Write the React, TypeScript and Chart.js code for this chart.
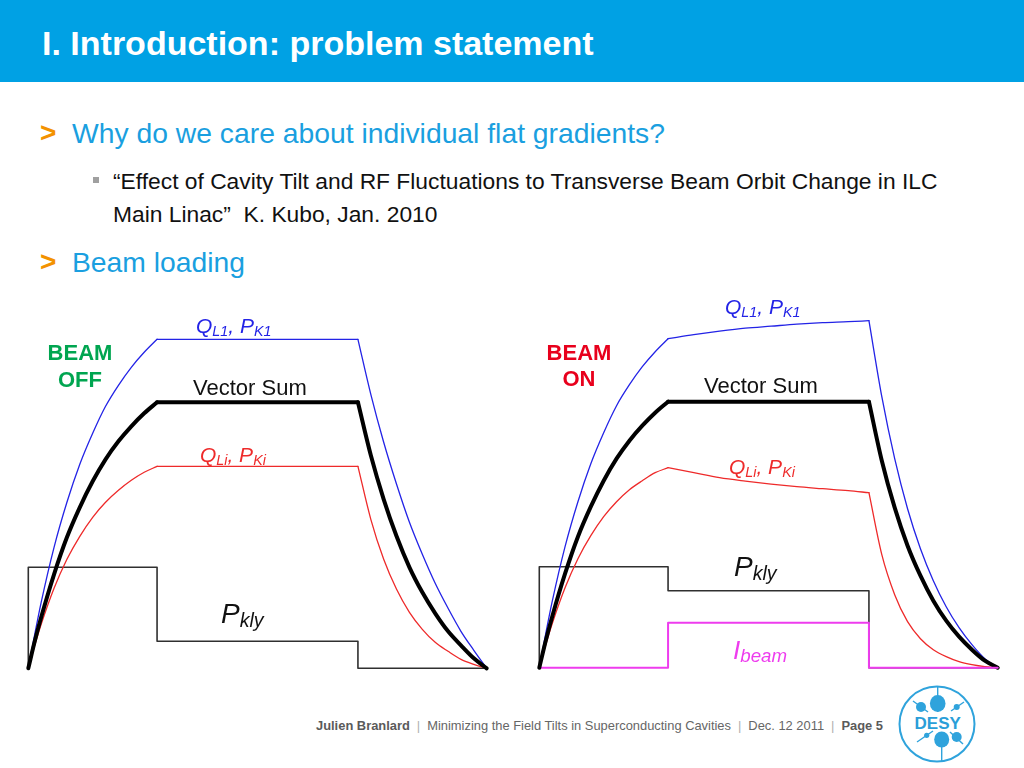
import React, { useEffect, useRef } from "react";
import { Chart, registerables } from "chart.js";

Chart.register(...registerables);

// ---- time axis (µs) ----
const timeFill = [0, 25, 50, 100, 150, 200, 250, 300, 350, 400, 450, 500];
const timeFlatOff = [500, 1280];
const timeFlatOn = [500, 600, 700, 800, 900, 1000, 1100, 1200, 1280];
const timeDecay = [1280, 1330, 1380, 1430, 1480, 1530, 1580, 1630, 1680, 1730, 1780];
const timeKly = [0, 0, 500, 500, 1280, 1280, 1780];
const timeBeam = [0, 500, 500, 1280, 1280, 1780];

// ---- BEAM OFF ----
const offCav1Fill = [0, 3.4, 6.6, 12.1, 16.6, 20.4, 23.5, 26.2, 28.3, 30.1, 31.6, 32.9];
const offCav1Flat = [32.9, 32.9];
const offCav1Decay = [32.9, 27.4, 22.6, 18.4, 14.6, 11.4, 8.5, 6.0, 3.7, 1.8, 0];
const offVsFill = [0, 2.7, 5.1, 9.4, 13.1, 16.1, 18.7, 20.9, 22.7, 24.2, 25.5, 26.6];
const offVsFlat = [26.6, 26.6];
const offVsDecay = [26.6, 21.3, 16.9, 13.2, 10.1, 7.6, 5.5, 3.7, 2.3, 1.0, 0];
const offCaviFill = [0, 2.3, 4.4, 8.0, 10.9, 13.2, 15.1, 16.6, 17.8, 18.8, 19.6, 20.2];
const offCaviFlat = [20.2, 20.2];
const offCaviDecay = [20.2, 14.9, 10.9, 7.9, 5.6, 3.9, 2.6, 1.7, 0.9, 0.4, 0];
const offKly = [0, 10.1, 10.1, 2.7, 2.7, 0, 0];

// ---- BEAM ON ----
const onCav1Fill = [0, 3.4, 6.6, 12.1, 16.6, 20.4, 23.5, 26.2, 28.3, 30.1, 31.6, 32.9];
const onCav1Flat = [32.9, 33.3, 33.65, 33.95, 34.15, 34.35, 34.5, 34.6, 34.7];
const onCav1Decay = [34.7, 27.1, 20.9, 15.9, 11.9, 8.7, 6.1, 4.0, 2.3, 0.9, 0];
const onVsFill = [0, 2.7, 5.1, 9.4, 13.1, 16.1, 18.7, 20.9, 22.7, 24.2, 25.5, 26.6];
const onVsFlat = [26.6, 26.6];
const onVsDecay = [26.6, 20.7, 16.0, 12.2, 9.2, 6.7, 4.7, 3.1, 1.8, 0.7, 0];
const onCaviFill = [0, 2.3, 4.4, 8.0, 10.9, 13.2, 15.1, 16.6, 17.8, 18.7, 19.5, 20.0];
const onCaviFlat = [20.0, 19.5, 19.0, 18.65, 18.35, 18.1, 17.9, 17.7, 17.5];
const onCaviDecay = [17.5, 11.3, 7.3, 4.6, 2.9, 1.8, 1.1, 0.6, 0.3, 0.1, 0];
const onKly = [0, 10.1, 10.1, 7.7, 7.7, 0, 0];
const onBeam = [0, 0, 4.5, 4.5, 0, 0];

const BLUE = "#2323e6";
const RED = "#ee2a2a";
const BLACK = "#000000";
const KLY = "#303030";
const MAGENTA = "#ee3cee";
const LOGO = "#2fa3dc";
const FONT = "'Liberation Sans', Arial, Helvetica, sans-serif";

const pts = (xs: number[], ys: number[]) => xs.map((x, i) => ({ x, y: ys[i] }));

const curve = (xs: number[], ys: number[], color: string, width: number, smooth = true) => ({
  data: pts(xs, ys),
  borderColor: color,
  backgroundColor: color,
  borderWidth: width,
  pointRadius: 0,
  fill: false,
  clip: false as any,
  tension: 0,
  cubicInterpolationMode: smooth ? ("monotone" as const) : ("default" as const),
  borderCapStyle: "round" as const,
  borderJoinStyle: "round" as const,
});

type Pad = { left: number; right: number; top: number; bottom: number };

function LineChart(props: { left: number; top: number; width: number; height: number; padding: Pad; datasets: any[] }) {
  const ref = useRef<HTMLCanvasElement>(null);
  useEffect(() => {
    const chart = new Chart(ref.current as HTMLCanvasElement, {
      type: "line",
      data: { datasets: props.datasets },
      options: {
        animation: false,
        responsive: false,
        maintainAspectRatio: false,
        devicePixelRatio: 1,
        layout: { padding: props.padding },
        plugins: { legend: { display: false }, tooltip: { enabled: false } },
        events: [],
        scales: {
          x: { type: "linear", min: 0, max: 1780, display: false },
          y: { type: "linear", min: 0, max: 36, display: false },
        },
      },
    });
    return () => chart.destroy();
  }, []);
  return (
    <canvas
      ref={ref}
      width={props.width}
      height={props.height}
      style={{ position: "absolute", left: props.left, top: props.top, width: props.width, height: props.height }}
    />
  );
}

const Sub = ({ children, size = 0.68 }: { children: any; size?: number }) => (
  <span style={{ fontSize: `${size}em`, position: "relative", top: "0.2em" }}>{children}</span>
);

const Lbl = ({ left, top, size, color, italic = false, bold = false, children }: any) => (
  <div
    style={{
      position: "absolute",
      left,
      top,
      fontSize: size,
      lineHeight: 1,
      color,
      fontStyle: italic ? "italic" : "normal",
      fontWeight: bold ? "bold" : "normal",
      fontFamily: FONT,
      whiteSpace: "nowrap",
    }}
  >
    {children}
  </div>
);

const Sep = () => <span style={{ color: "#b0b0b0", padding: "0 7px" }}>|</span>;

export default function App() {
  const offSets = [
    curve(timeFill, offVsFill, BLACK, 4),
    curve(timeFlatOff, offVsFlat, BLACK, 4),
    curve(timeDecay, offVsDecay, BLACK, 4),
    curve(timeFill, offCav1Fill, BLUE, 1.3),
    curve(timeFlatOff, offCav1Flat, BLUE, 1.3),
    curve(timeDecay, offCav1Decay, BLUE, 1.3),
    curve(timeFill, offCaviFill, RED, 1.3),
    curve(timeFlatOff, offCaviFlat, RED, 1.3),
    curve(timeDecay, offCaviDecay, RED, 1.3),
    curve(timeKly, offKly, KLY, 1.6, false),
  ];
  const onSets = [
    curve(timeFill, onVsFill, BLACK, 4),
    curve(timeBeam, onBeam, MAGENTA, 2, false),
    curve(timeFlatOff, onVsFlat, BLACK, 4),
    curve(timeDecay, onVsDecay, BLACK, 4),
    curve(timeFill, onCav1Fill, BLUE, 1.3),
    curve(timeFlatOn, onCav1Flat, BLUE, 1.3),
    curve(timeDecay, onCav1Decay, BLUE, 1.3),
    curve(timeFill, onCaviFill, RED, 1.3),
    curve(timeFlatOn, onCaviFlat, RED, 1.3),
    curve(timeDecay, onCaviDecay, RED, 1.3),
    curve(timeKly, onKly, KLY, 1.6, false),
  ];

  return (
    <div
      style={{
        position: "fixed",
        left: 0,
        top: 0,
        width: 1024,
        height: 768,
        background: "#ffffff",
        overflow: "hidden",
        fontFamily: FONT,
      }}
    >
      {/* header */}
      <div style={{ position: "absolute", left: 0, top: 0, width: 1024, height: 82, background: "#00a1e4" }} />
      <Lbl left={42} top={26} size={34} color="#ffffff" bold>
        I. Introduction: problem statement
      </Lbl>

      {/* bullets */}
      <Lbl left={40} top={119} size={28} color="#f39200" bold>&gt;</Lbl>
      <Lbl left={72} top={119} size={28.3} color="#1a9fe0">Why do we care about individual flat gradients?</Lbl>
      <div style={{ position: "absolute", left: 93, top: 177, width: 6, height: 6, background: "#a0a0a0" }} />
      <Lbl left={113} top={170} size={22.8} color="#111111">
        “Effect of Cavity Tilt and RF Fluctuations to Transverse Beam Orbit Change in ILC
      </Lbl>
      <Lbl left={113} top={203} size={22.8} color="#111111">
        Main Linac”&nbsp;&nbsp;K. Kubo, Jan. 2010
      </Lbl>
      <Lbl left={40} top={248} size={28} color="#f39200" bold>&gt;</Lbl>
      <Lbl left={72} top={248} size={28.3} color="#1a9fe0">Beam loading</Lbl>

      {/* charts */}
      <LineChart left={18} top={290} width={480} height={390} padding={{ left: 10.3, right: 11.3, top: 18.3, bottom: 11.7 }} datasets={offSets} />
      <LineChart left={529} top={290} width={480} height={390} padding={{ left: 10.3, right: 11.3, top: 17.7, bottom: 12.3 }} datasets={onSets} />

      {/* left chart labels */}
      <div style={{ position: "absolute", left: 30, top: 340, width: 100, textAlign: "center", fontFamily: FONT, fontWeight: "bold", fontSize: 22, lineHeight: "26.7px", color: "#00a550" }}>
        BEAM<br />OFF
      </div>
      <Lbl left={196} top={314.7} size={21} color={BLUE} italic>
        Q<Sub>L1</Sub>, P<Sub>K1</Sub>
      </Lbl>
      <Lbl left={193} top={377} size={22} color="#111111">Vector Sum</Lbl>
      <Lbl left={200} top={443.7} size={21} color={RED} italic>
        Q<Sub>Li</Sub>, P<Sub>Ki</Sub>
      </Lbl>
      <Lbl left={221} top={599.6} size={28} color="#111111" italic>
        P<Sub size={0.7}>kly</Sub>
      </Lbl>

      {/* right chart labels */}
      <div style={{ position: "absolute", left: 529, top: 339.6, width: 100, textAlign: "center", fontFamily: FONT, fontWeight: "bold", fontSize: 22, lineHeight: "26.7px", color: "#e8001c" }}>
        BEAM<br />ON
      </div>
      <Lbl left={725} top={296.4} size={21} color={BLUE} italic>
        Q<Sub>L1</Sub>, P<Sub>K1</Sub>
      </Lbl>
      <Lbl left={704} top={375.2} size={22} color="#111111">Vector Sum</Lbl>
      <Lbl left={729} top={456.4} size={21} color={RED} italic>
        Q<Sub>Li</Sub>, P<Sub>Ki</Sub>
      </Lbl>
      <Lbl left={734} top={553} size={28} color="#111111" italic>
        P<Sub size={0.7}>kly</Sub>
      </Lbl>
      <Lbl left={733} top={636.5} size={26} color={MAGENTA} italic>
        I<Sub size={0.72}>beam</Sub>
      </Lbl>

      {/* footer */}
      <Lbl left={316} top={720.3} size={12.9} color="#666666">
        <span style={{ fontWeight: "bold", color: "#5a5a5a" }}>Julien Branlard</span>
        <Sep />
        Minimizing the Field Tilts in Superconducting Cavities
        <Sep />
        Dec. 12 2011
        <Sep />
        <span style={{ fontWeight: "bold", color: "#5a5a5a" }}>Page 5</span>
      </Lbl>

      {/* DESY logo */}
      <svg style={{ position: "absolute", left: 897, top: 684 }} width={80} height={80} viewBox="0 0 80 80">
        <circle cx={40} cy={40} r={37.5} fill="none" stroke={LOGO} strokeWidth={2} />
        <g stroke={LOGO} strokeWidth={1.4}>
          <line x1={40.7} y1={3} x2={40.7} y2={28} />
          <line x1={16} y1={17} x2={31} y2={28} />
          <line x1={54} y1={27} x2={67} y2={18} />
          <line x1={44.7} y1={48} x2={44.7} y2={77} />
          <line x1={53} y1={48} x2={66} y2={60} />
          <line x1={20} y1={58} x2={36} y2={47} />
        </g>
        <g fill={LOGO}>
          <ellipse cx={40.7} cy={19.5} rx={7.8} ry={8.5} />
          <circle cx={24} cy={23} r={5} />
          <circle cx={59.7} cy={23} r={3} />
          <ellipse cx={44.7} cy={55.5} rx={7.5} ry={8} />
          <circle cx={59.7} cy={53} r={5} />
          <circle cx={29.7} cy={51.3} r={2.6} />
        </g>
        <text x={40.7} y={44.7} textAnchor="middle" fontFamily={FONT} fontWeight="bold" fontSize={17} fill="#2a9ed8">
          DESY
        </text>
      </svg>
    </div>
  );
}
